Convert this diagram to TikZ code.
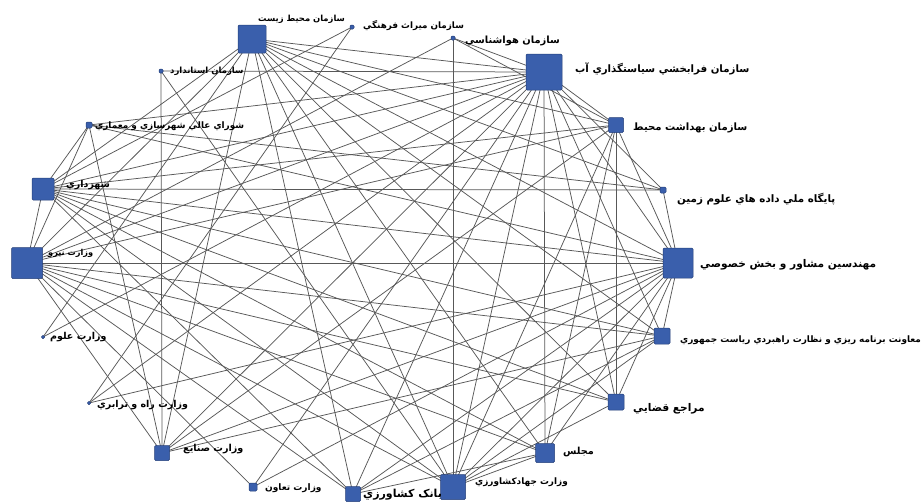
\documentclass[tikz,border=0pt]{standalone}
\usepackage{fontspec}
\newfontfamily\fa[Script=Arabic]{DejaVu Sans}
\TeXXeTstate=1
\usetikzlibrary{backgrounds}
\definecolor{nodeblue}{RGB}{58,95,172}
\definecolor{nodeedge}{RGB}{38,64,122}
\definecolor{edgegray}{RGB}{88,88,88}
\newcommand{\fs}[1]{\fa\bfseries\fontsize{#1}{#1}\selectfont}
\begin{document}
\begin{tikzpicture}[x=1pt,y=-1pt,
  sq/.style={draw=nodeedge, fill=nodeblue, rectangle, rounded corners=1.2pt, inner sep=0pt, line width=0.5pt},
  lbl/.style={anchor=west, inner sep=0pt},
  edge/.style={draw=edgegray, line width=0.75pt}]
\useasboundingbox (0,0) rectangle (923,501);
% nodes on the ellipse
\node[sq,minimum size=30pt] (k0) at (678,263) {};
\node[sq,minimum size=6pt]  (k1) at (663,190) {};
\node[sq,minimum size=15pt] (k2) at (616,125) {};
\node[sq,minimum size=36pt] (k3) at (544,72) {};
\node[sq,minimum size=4pt]  (k4) at (453,38) {};
\node[sq,minimum size=4pt]  (k5) at (352,27) {};
\node[sq,minimum size=28pt] (k6) at (252,39) {};
\node[sq,minimum size=4pt]  (k7) at (161,71) {};
\node[sq,minimum size=6pt]  (k8) at (89,125) {};
\node[sq,minimum size=22pt] (k9) at (43,189) {};
\node[sq,minimum size=31pt] (k10) at (27,263) {};
\node[sq,minimum size=3pt]  (k11) at (43,337) {};
\node[sq,minimum size=3pt]  (k12) at (89,403) {};
\node[sq,minimum size=15pt] (k13) at (162,453) {};
\node[sq,minimum size=8pt]  (k14) at (253,487) {};
\node[sq,minimum size=15pt] (k15) at (353,494) {};
\node[sq,minimum size=25pt] (k16) at (453,487) {};
\node[sq,minimum size=19pt] (k17) at (545,453) {};
\node[sq,minimum size=16pt] (k18) at (616,402) {};
\node[sq,minimum size=16pt] (k19) at (662,336) {};
% edges
\begin{pgfonlayer}{background}
\fill[white] (0,0) rectangle (923,501);
\foreach \a/\b in {0/1,0/2,0/3,0/6,0/8,0/9,0/10,0/12,0/13,0/14,0/15,0/16,0/17,0/18,0/19,
  1/3,1/6,1/8,1/9,
  2/3,2/4,2/6,2/9,2/10,2/13,2/16,2/17,2/18,
  3/4,3/6,3/7,3/8,3/9,3/10,3/11,3/12,3/13,3/14,3/15,3/16,3/17,3/18,3/19,
  4/10,4/16,5/9,5/12,
  6/9,6/10,6/11,6/13,6/15,6/16,6/17,6/18,6/19,
  7/13,7/16,8/9,8/10,8/13,
  9/10,9/15,9/16,9/17,9/18,9/19,
  10/13,10/14,10/15,10/16,10/17,10/18,10/19,
  13/19,15/17,15/19,16/17,16/18,16/19}
  \draw[edge] (k\a.center) -- (k\b.center);
\end{pgfonlayer}
% labels
\node[lbl] (l0) at (700,265) {\fs{10.6}\beginR مهندسين مشاور و بخش خصوصي\endR};
\node[lbl] (l1) at (677,199) {\fs{10.3}\beginR پايگاه ملي داده هاي علوم زمين\endR};
\node[lbl] (l2) at (633,128) {\fs{10.1}\beginR سازمان بهداشت محيط\endR};
\node[lbl] (l3) at (575,69) {\fs{10.2}\beginR سازمان فرابخشي سياستگذاري آب\endR};
\node[lbl] (l4) at (465,41) {\fs{9.9}\beginR سازمان هواشناسي\endR};
\node[lbl] (l5) at (363,26) {\fs{8.8}\beginR سازمان ميراث فرهنگي\endR};
\node[lbl] (l6) at (258,19) {\fs{8.4}\beginR سازمان محيط زيست\endR};
\node[lbl] (l7) at (170,71) {\fs{8.5}\beginR سازمان استاندارد\endR};
\node[lbl] (l8) at (95,126) {\fs{8.9}\beginR شوراي عالي شهرسازي و معماري\endR};
\node[lbl] (l9) at (66,185) {\fs{9.5}\beginR شهرداري\endR};
\node[lbl] (l10) at (48,253) {\fs{8.2}\beginR وزارت نيرو\endR};
\node[lbl] (l11) at (50,337) {\fs{9.5}\beginR وزارت علوم\endR};
\node[lbl] (l12) at (97,405) {\fs{9.5}\beginR وزارت راه و ترابري\endR};
\node[lbl] (l13) at (183,449) {\fs{9.6}\beginR وزارت صنايع\endR};
\node[lbl] (l14) at (265,488) {\fs{9.0}\beginR وزارت تعاون\endR};
\node[lbl] (l15) at (363,495) {\fs{11}\beginR بانک کشاورزي\endR};
\node[lbl] (l16) at (475,482) {\fs{8.9}\beginR وزارت جهادکشاورزي\endR};
\node[lbl] (l17) at (563,452) {\fs{9.7}\beginR مجلس\endR};
\node[lbl] (l18) at (633,409) {\fs{10.6}\beginR مراجع قضايي\endR};
\node[lbl] (l19) at (680,340) {\fs{8.9}\beginR معاونت برنامه ريزي و نظارت راهبردي رياست جمهوري\endR};
\end{tikzpicture}
\end{document}
